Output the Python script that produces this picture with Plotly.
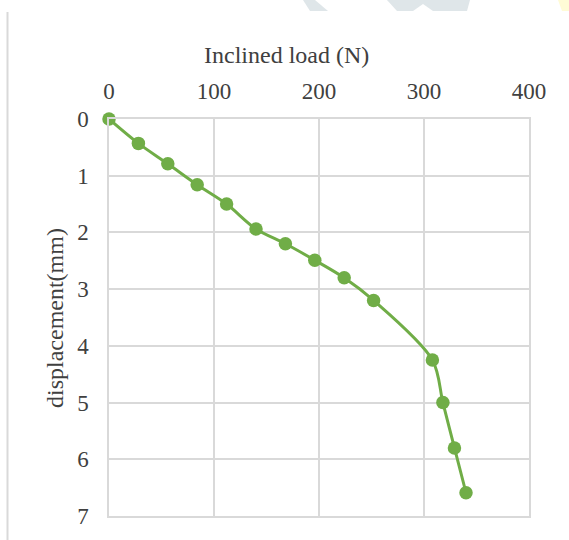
import plotly.graph_objects as go

# Inclined load (N) versus displacement (mm)
load_n = [0, 28, 56, 84, 112, 140, 168, 196, 224, 252, 308, 318, 329, 340]
displacement_mm = [0, 0.43, 0.79, 1.16, 1.50, 1.94, 2.20, 2.49, 2.80, 3.20, 4.25, 5.00, 5.80, 6.59]

x_ticks = [0, 100, 200, 300, 400]
y_ticks = [0, 1, 2, 3, 4, 5, 6, 7]

W, H = 569, 540
M_L, M_R, M_T, M_B = 109, 40, 119, 24
PW, PH = W - M_L - M_R, H - M_T - M_B

GREEN = "#70AD47"
GRID = "#d9d9d9"
TEXT = "#404040"
FONT = "Liberation Serif, Times New Roman, serif"


def px(x):
    return (x - M_L) / PW


def py(y):
    return (H - M_B - y) / PH


fig = go.Figure()
fig.add_trace(
    go.Scatter(
        x=load_n,
        y=displacement_mm,
        mode="lines+markers",
        line=dict(color=GREEN, width=3, shape="spline", smoothing=0.9),
        marker=dict(color=GREEN, size=13.5),
        cliponaxis=False,
        showlegend=False,
        hoverinfo="x+y",
    )
)

# faint background decoration along the top edge
deco = [
    ([(303, 0), (315, 0), (328, 11), (310, 11)], "#dfe6e9"),
    ([(387, 0), (470, 0), (467, 11), (433, 11), (423, 4), (413, 11), (397, 11)], "#dfe6e9"),
    ([(558, 0), (569, 0), (569, 11), (562, 11)], "#fffbd6"),
]
shapes = []
for pts, col in deco:
    path = "M " + " L ".join(f"{px(a):.5f},{py(b):.5f}" for a, b in pts) + " Z"
    shapes.append(dict(type="path", xref="paper", yref="paper", path=path,
                       fillcolor=col, line=dict(width=0), layer="below"))

# outer frame edge on the left
shapes.append(dict(type="line", xref="paper", yref="paper",
                   x0=px(7.5), x1=px(7.5), y0=py(12), y1=py(545),
                   line=dict(color=GRID, width=2)))

fig.update_layout(
    width=W,
    height=H,
    margin=dict(l=M_L, r=M_R, t=M_T, b=M_B),
    paper_bgcolor="white",
    plot_bgcolor="white",
    font=dict(family=FONT, size=23, color=TEXT),
    shapes=shapes,
    xaxis=dict(
        side="top",
        range=[0, 400],
        tickvals=x_ticks,
        ticktext=[str(v) for v in x_ticks],
        showgrid=True,
        gridcolor=GRID,
        gridwidth=1.5,
        zeroline=False,
        showline=True,
        linecolor=GRID,
        linewidth=1.5,
        mirror=True,
        ticks="",
        ticklabelstandoff=9,
        tickfont=dict(family=FONT, size=23, color=TEXT),
    ),
    yaxis=dict(
        range=[7, 0],
        tickvals=y_ticks,
        ticktext=[str(v) for v in y_ticks],
        showgrid=True,
        gridcolor=GRID,
        gridwidth=1.5,
        zeroline=False,
        showline=True,
        linecolor=GRID,
        linewidth=1.5,
        mirror=True,
        ticks="",
        ticklabelstandoff=14,
        tickfont=dict(family=FONT, size=23, color=TEXT),
    ),
    annotations=[
        dict(text="Inclined load (N)", xref="paper", yref="paper",
             x=px(286.5), y=py(55), xanchor="center", yanchor="middle",
             showarrow=False, font=dict(family=FONT, size=24, color=TEXT)),
        dict(text="displacement(mm)", xref="paper", yref="paper",
             x=px(55), y=py(318), xanchor="center", yanchor="middle",
             textangle=-90, showarrow=False,
             font=dict(family=FONT, size=24, color=TEXT)),
    ],
)

fig.write_html("out.html")
